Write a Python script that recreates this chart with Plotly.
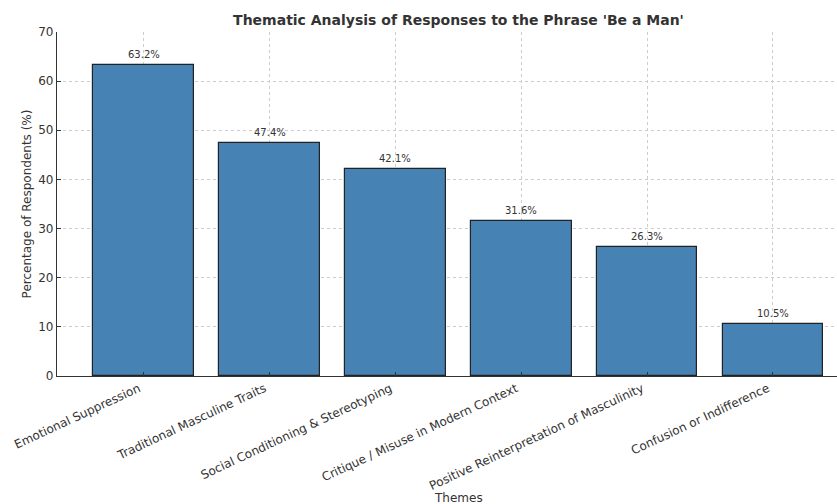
import plotly.graph_objects as go

themes = [
    "Emotional Suppression",
    "Traditional Masculine Traits",
    "Social Conditioning & Stereotyping",
    "Critique / Misuse in Modern Context",
    "Positive Reinterpretation of Masculinity",
    "Confusion or Indifference",
]
percentages = [63.2, 47.4, 42.1, 31.6, 26.3, 10.5]
value_labels = [f"{v}%" for v in percentages]
y_ticks = [0, 10, 20, 30, 40, 50, 60, 70]

W, H = 837, 504
L, R, T, B = 57, 0, 32, 128
plot_h = H - T - B

font_family = "DejaVu Sans, Verdana, sans-serif"
text_col = "#333333"

x_idx = list(range(len(themes)))

fig = go.Figure()
fig.add_trace(go.Bar(
    x=x_idx,
    y=percentages,
    width=0.8,
    marker=dict(color="#4682b4", line=dict(color="#222222", width=1.2)),
    hoverinfo="skip",
))

for i, (v, lab) in enumerate(zip(percentages, value_labels)):
    fig.add_annotation(
        x=i, y=v, text=lab, showarrow=False,
        yanchor="bottom", yshift=3,
        font=dict(family=font_family, size=10, color=text_col),
    )

# axis title for the categories, placed under the slanted tick labels
fig.add_annotation(
    xref="paper", yref="paper",
    x=(458.5 - L) / (W - L - R), y=-(489 - T - plot_h) / plot_h,
    text="Themes", showarrow=False, yanchor="top", xanchor="center",
    font=dict(family=font_family, size=12, color=text_col),
)

fig.update_layout(
    width=W, height=H,
    margin=dict(l=L, r=R, t=T, b=B),
    paper_bgcolor="white",
    plot_bgcolor="white",
    showlegend=False,
    bargap=0,
    title=dict(
        text="<b>Thematic Analysis of Responses to the Phrase 'Be a Man'</b>",
        x=458.5 / W, xanchor="center",
        y=1 - 20 / H, yanchor="middle",
        font=dict(family=font_family, size=14, color=text_col),
    ),
    font=dict(family=font_family, color=text_col),
)

fig.update_xaxes(
    range=[-0.69, 5.51],
    tickmode="array", tickvals=x_idx, ticktext=themes,
    tickangle=-25,
    ticklabelshift=-5,
    tickfont=dict(family=font_family, size=12, color=text_col),
    ticks="inside", ticklen=4, tickcolor="#333333",
    showline=True, linecolor="#333333", linewidth=1.2,
    showgrid=True, gridcolor="#cccccc", griddash="dot", gridwidth=0.8,
    zeroline=False,
)
fig.update_yaxes(
    range=[0, 70],
    tickmode="array", tickvals=y_ticks,
    tickfont=dict(family=font_family, size=12, color=text_col),
    ticks="inside", ticklen=4, tickcolor="#333333",
    showline=True, linecolor="#333333", linewidth=1.2,
    showgrid=True, gridcolor="#cccccc", griddash="dot", gridwidth=0.8,
    zeroline=False,
    title=dict(text="Percentage of Respondents (%)", standoff=4,
               font=dict(family=font_family, size=12, color=text_col)),
)

fig.write_html("out.html")
